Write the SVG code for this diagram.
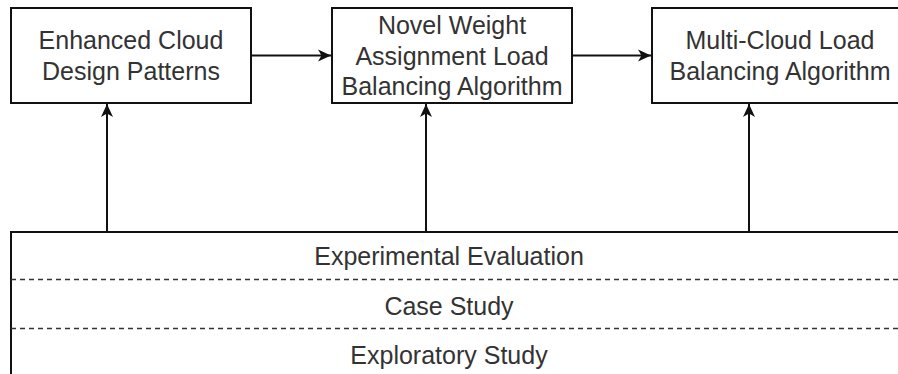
<svg xmlns="http://www.w3.org/2000/svg" width="898" height="374" viewBox="0 0 898 374">
  <style>
    .box { fill: #ffffff; stroke: #111111; stroke-width: 2; }
    .label { font-family: "Liberation Sans", Arial, sans-serif; font-size: 25px; fill: #333333; text-anchor: middle; }
    .edge { fill: none; stroke: #111111; stroke-width: 2; }
    .sep { fill: none; stroke: #333333; stroke-width: 1.5; stroke-dasharray: 5 4; }
  </style>
  <defs>
    <marker id="arrow" viewBox="0 0 13 13" refX="13" refY="6.5" markerWidth="13" markerHeight="13" markerUnits="userSpaceOnUse" orient="auto">
      <path d="M0,0.5 L13,6.5 L0,12.5 L3.5,6.5 Z" fill="#111111"/>
    </marker>
  </defs>

  <rect width="898" height="374" fill="#ffffff"/>

  <!-- Foundation layer with three stacked study bands -->
  <g id="studies">
    <rect class="box" x="11" y="232" width="910" height="170"/>
    <line class="sep" x1="11" y1="279.5" x2="898" y2="279.5"/>
    <line class="sep" x1="11" y1="328.5" x2="898" y2="328.5"/>
    <text class="label" x="449" y="265">Experimental Evaluation</text>
    <text class="label" x="449" y="315">Case Study</text>
    <text class="label" x="449" y="364">Exploratory Study</text>
  </g>

  <g id="design-patterns">
    <rect class="box" x="11" y="8" width="240" height="95"/>
    <text class="label" x="131" y="49">Enhanced Cloud</text>
    <text class="label" x="131" y="80">Design Patterns</text>
  </g>

  <g id="weight-assignment">
    <rect class="box" x="332" y="8" width="240" height="95"/>
    <text class="label" x="452" y="34">Novel Weight</text>
    <text class="label" x="452" y="65">Assignment Load</text>
    <text class="label" x="452" y="95">Balancing Algorithm</text>
  </g>

  <g id="multi-cloud">
    <rect class="box" x="652" y="8" width="256" height="95"/>
    <text class="label" x="780" y="49">Multi-Cloud Load</text>
    <text class="label" x="780" y="80">Balancing Algorithm</text>
  </g>

  <g id="connectors">
    <line class="edge" x1="251" y1="55.5" x2="322" y2="55.5"/>
    <line class="edge" x1="321" y1="55.5" x2="331" y2="55.5" marker-end="url(#arrow)"/>
    <line class="edge" x1="572" y1="55.5" x2="642" y2="55.5"/>
    <line class="edge" x1="641" y1="55.5" x2="651" y2="55.5" marker-end="url(#arrow)"/>
    <line class="edge" x1="107" y1="232" x2="107" y2="113"/>
    <line class="edge" x1="107" y1="114" x2="107" y2="104" marker-end="url(#arrow)"/>
    <line class="edge" x1="426" y1="232" x2="426" y2="113"/>
    <line class="edge" x1="426" y1="114" x2="426" y2="104" marker-end="url(#arrow)"/>
    <line class="edge" x1="749" y1="232" x2="749" y2="113"/>
    <line class="edge" x1="749" y1="114" x2="749" y2="104" marker-end="url(#arrow)"/>
  </g>
</svg>
